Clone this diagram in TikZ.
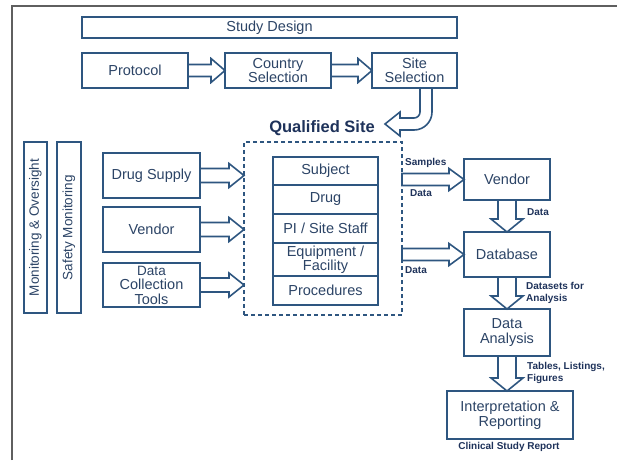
\documentclass[tikz,border=0pt]{standalone}
\usepackage{fontspec}
\setmainfont{Liberation Sans}
\usetikzlibrary{calc}

\definecolor{bcol}{RGB}{46,86,128}
\definecolor{tcol}{RGB}{44,68,102}
\definecolor{lcol}{RGB}{30,50,90}
\definecolor{framecol}{RGB}{95,95,95}

\newcommand\boxfont{\fontsize{14.5}{14.5}\selectfont}
\newcommand\vfont{\fontsize{13.5}{13.5}\selectfont}
\newcommand\labfont{\fontsize{10}{12}\selectfont\bfseries}

% hollow block arrow pointing right: from, to, half body, half head, head length
\newcommand\hollowright[5]{%
  \draw[harr] ($(#1)+(0,#3)$) -- ($(#2)+(-#5,#3)$) -- ($(#2)+(-#5,#4)$) -- (#2)
    -- ($(#2)+(-#5,-#4)$) -- ($(#2)+(-#5,-#3)$) -- ($(#1)+(0,-#3)$) -- cycle;}
% hollow block arrow pointing down (y axis runs downwards)
\newcommand\hollowdown[5]{%
  \draw[harr] ($(#1)+(-#3,0)$) -- ($(#2)+(-#3,-#5)$) -- ($(#2)+(-#4,-#5)$) -- (#2)
    -- ($(#2)+(#4,-#5)$) -- ($(#2)+(#3,-#5)$) -- ($(#1)+(#3,0)$) -- cycle;}

\tikzset{
  box/.style={draw=bcol, line width=1.6pt, fill=white, text=tcol, inner sep=0pt,
    outer sep=0pt, align=center, font=\boxfont},
  vbox/.style={box, rotate=90, font=\vfont},
  lab/.style={font=\labfont, text=lcol, inner sep=0pt, anchor=west},
  harr/.style={draw=bcol, line width=1.6pt, fill=white, line join=miter},
}

\begin{document}
\begin{tikzpicture}[x=1pt,y=-1pt]
\useasboundingbox (0,0) rectangle (617,460);

% outer frame
\draw[framecol, line width=1.5pt] (12,460) coordinate (f1) -- (12,6) coordinate (f2) -- (617,6) coordinate (f3);

% top row
\node[box, minimum width=375, minimum height=21] (design) at (269.5,27.5) {Study Design};
\node[box, minimum width=106, minimum height=35] (protocol) at (135,70.5) {Protocol};
\node[box, minimum width=106, minimum height=35] (country) at (278,70.5) {Country\\Selection};
\node[box, minimum width=85, minimum height=35] (sitesel) at (414.5,70.5) {Site\\Selection};

\hollowright{protocol.east}{country.west}{6}{12}{14}
\hollowright{country.east}{sitesel.west}{6}{12}{14}

% curved arrow into the qualified site
\coordinate (cin) at ($(sitesel.south)+(5.5,0)$);
\coordinate (cout) at ($(sitesel.south)+(17.5,0)$);
\draw[harr] (cin) -- ++(0,24) .. controls +(0,3.3) and (417.3,118) .. (414,118)
  -- (400,118) -- (400,112) -- (385,124) coordinate (ctip) -- (400,136) -- (400,130)
  -- (414,130) .. controls (423.9,130) and (432,121.9) .. (432,112) -- (cout) -- cycle;

\node[font=\fontsize{16.5}{18}\selectfont\bfseries, text=lcol, inner sep=0pt] (qual) at (322,128) {Qualified Site};

% monitoring columns
\node[vbox, minimum width=171, minimum height=23] (monitor) at (35.5,227.5) {Monitoring \& Oversight};
\node[vbox, minimum width=171, minimum height=24] (safety) at (69,227.5) {Safety Monitoring};

% inputs to the site
\node[box, minimum width=97, minimum height=45] (drugsup) at (151.5,175.5) {Drug Supply};
\node[box, minimum width=97, minimum height=45] (vendorL) at (151.5,229.5) {Vendor};
\node[box, minimum width=97, minimum height=44] (tools) at (151.5,285) {\fontsize{13.5}{14}\selectfont Data\\Collection\\Tools};

% qualified site
\node[draw=bcol, line width=1.6pt, dash pattern=on 4pt off 3pt, minimum width=158,
  minimum height=173, inner sep=0pt, outer sep=0pt] (site) at (323,228.5) {};
\node[box, minimum width=105, minimum height=28] (subject) at (325.5,171) {Subject};
\node[box, minimum width=105, minimum height=29] (drug) at (325.5,199.5) {Drug};
\node[box, minimum width=105, minimum height=29] (staff) at (325.5,228.5) {PI / Site Staff};
\node[box, minimum width=105, minimum height=33] (equip) at (325.5,259.5) {Equipment /\\Facility};
\node[box, minimum width=105, minimum height=29] (proc) at (325.5,290.5) {Procedures};

\hollowright{drugsup.east}{drugsup.east -| site.west}{7}{12}{15}
\hollowright{vendorL.east}{vendorL.east -| site.west}{7}{12}{15}
\hollowright{tools.east}{tools.east -| site.west}{7}{12}{15}

% data flow
\node[box, minimum width=86, minimum height=41] (vendorR) at (507,179.5) {Vendor};
\node[box, minimum width=86, minimum height=45] (database) at (507,254.5) {Database};
\node[box, minimum width=86, minimum height=47] (analysis) at (507,332.5) {Data\\Analysis};
\node[box, minimum width=126, minimum height=48] (report) at (510,415) {Interpretation \&\\Reporting};

\hollowright{site.east |- vendorR.west}{vendorR.west}{6}{11}{15}
\hollowright{site.east |- database.west}{database.west}{6}{11}{15}
\hollowdown{vendorR.south}{database.north}{9}{16}{13}
\hollowdown{database.south}{analysis.north}{9}{16}{13}
\hollowdown{analysis.south}{analysis.south |- report.north}{9}{16}{13}

\node[lab] (samples) at (405,163) {Samples};
\node[lab] (data1) at (410,193) {Data};
\node[lab] (data2) at (405,270) {Data};
\node[lab] (data3) at (527,212) {Data};
\node[lab, align=left] (datasets) at (526,293) {Datasets for\\Analysis};
\node[lab, align=left] (tables) at (527,372.5) {Tables, Listings,\\Figures};
\node[font=\labfont, text=lcol, inner sep=0pt] (csr) at (509,447) {Clinical Study Report};
\end{tikzpicture}
\end{document}
